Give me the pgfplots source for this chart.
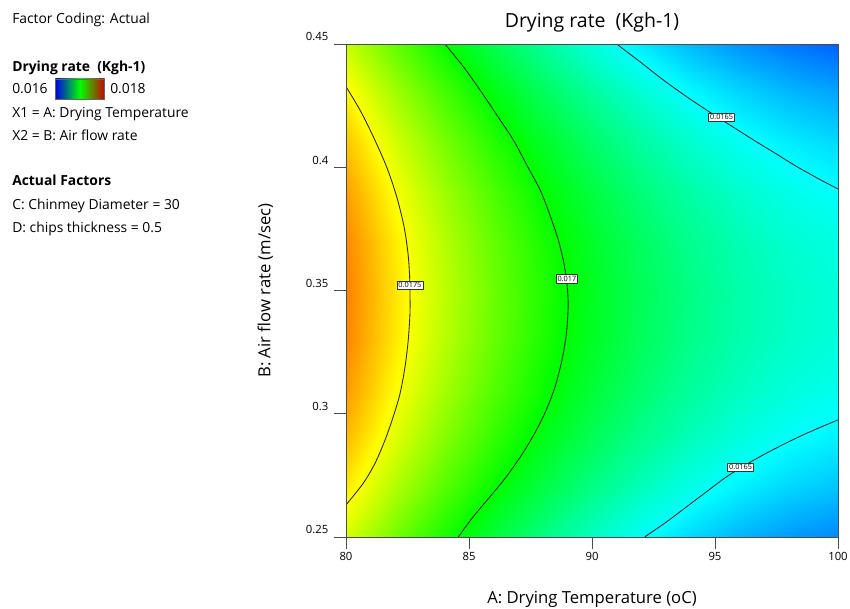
\documentclass[border=0pt]{standalone}
\usepackage{pgfplots}
\pgfplotsset{compat=1.18}
\usepackage{pgfplotstable}
\usepackage{fontspec}
\setmainfont{Open Sans}

% drying rate, T (oC), B (m/sec), z (Kgh-1)
\pgfplotstableread{
T B z
80  0.25 0.017421
82  0.25 0.017225
84  0.25 0.017047
86  0.25 0.016887
88  0.25 0.016745
90  0.25 0.016621
92  0.25 0.016515
94  0.25 0.016426
96  0.25 0.016356
98  0.25 0.016303
100 0.25 0.016268
80  0.27 0.017542
82  0.27 0.017346
84  0.27 0.017167
86  0.27 0.017007
88  0.27 0.016864
90  0.27 0.016740
92  0.27 0.016633
94  0.27 0.016544
96  0.27 0.016473
98  0.27 0.016420
100 0.27 0.016385
80  0.29 0.017635
82  0.29 0.017439
84  0.29 0.017260
86  0.29 0.017099
88  0.29 0.016956
90  0.29 0.016831
92  0.29 0.016724
94  0.29 0.016634
96  0.29 0.016563
98  0.29 0.016509
100 0.29 0.016473
80  0.31 0.017701
82  0.31 0.017504
84  0.31 0.017325
86  0.31 0.017163
88  0.31 0.017020
90  0.31 0.016894
92  0.31 0.016787
94  0.31 0.016697
96  0.31 0.016625
98  0.31 0.016571
100 0.31 0.016535
80  0.33 0.017740
82  0.33 0.017542
84  0.33 0.017362
86  0.33 0.017200
88  0.33 0.017056
90  0.33 0.016930
92  0.33 0.016822
94  0.33 0.016732
96  0.33 0.016660
98  0.33 0.016605
100 0.33 0.016569
80  0.35 0.017750
82  0.35 0.017552
84  0.35 0.017372
86  0.35 0.017210
88  0.35 0.017065
90  0.35 0.016939
92  0.35 0.016830
94  0.35 0.016740
96  0.35 0.016667
98  0.35 0.016612
100 0.35 0.016575
80  0.37 0.017734
82  0.37 0.017535
84  0.37 0.017354
86  0.37 0.017192
88  0.37 0.017047
90  0.37 0.016920
92  0.37 0.016811
94  0.37 0.016720
96  0.37 0.016647
98  0.37 0.016591
100 0.37 0.016554
80  0.39 0.017689
82  0.39 0.017490
84  0.39 0.017309
86  0.39 0.017146
88  0.39 0.017001
90  0.39 0.016874
92  0.39 0.016764
94  0.39 0.016673
96  0.39 0.016599
98  0.39 0.016543
100 0.39 0.016505
80  0.41 0.017617
82  0.41 0.017418
84  0.41 0.017237
86  0.41 0.017073
88  0.41 0.016927
90  0.41 0.016800
92  0.41 0.016690
94  0.41 0.016598
96  0.41 0.016524
98  0.41 0.016467
100 0.41 0.016429
80  0.43 0.017518
82  0.43 0.017318
84  0.43 0.017136
86  0.43 0.016972
88  0.43 0.016826
90  0.43 0.016698
92  0.43 0.016588
94  0.43 0.016495
96  0.43 0.016421
98  0.43 0.016364
100 0.43 0.016325
80  0.45 0.017391
82  0.45 0.017191
84  0.45 0.017009
86  0.45 0.016844
88  0.45 0.016698
90  0.45 0.016569
92  0.45 0.016458
94  0.45 0.016365
96  0.45 0.016290
98  0.45 0.016233
100 0.45 0.016194
}\drydata

\begin{document}
\begin{tikzpicture}[
  lbl/.style={draw=black!80, fill=white, line width=0.4pt, inner sep=1.1pt,
    font=\fontsize{5.5}{6}\selectfont},
  side/.style={anchor=base west, inner sep=0pt, font=\fontsize{10.4}{12}\selectfont},
  sideb/.style={side, font=\fontsize{10.4}{12}\selectfont\bfseries},
]
\path[use as bounding box] (-259.5pt,-53.25pt) rectangle (378pt,402.75pt);
\begin{axis}[
  scale only axis, width=369pt, height=369.75pt,
  xmin=80, xmax=100, ymin=0.25, ymax=0.45,
  xtick={80,85,90,95,100}, ytick={0.25,0.3,0.35,0.4,0.45},
  xtick pos=bottom, ytick pos=left,
  tick align=outside, major tick length=9pt,
  axis on top,
  axis line style={black!70, line width=0.6pt},
  tick style={black!70, line width=0.6pt},
  /pgf/number format/assume math mode=true,
  ticklabel style={font=\fontsize{8.5}{10}\selectfont},
  yticklabel style={/pgf/number format/fixed, /pgf/number format/precision=2,
    anchor=south east, inner sep=0pt, xshift=-4pt, yshift=2pt},
  xticklabel style={anchor=north, inner sep=0pt, yshift=-2.5pt},
  colormap={de}{rgb255(0cm)=(0,0,255); rgb255(1cm)=(0,255,255);
    rgb255(2cm)=(0,255,0); rgb255(3cm)=(255,255,0); rgb255(4cm)=(255,0,0)},
  point meta min=0.016, point meta max=0.018,
  title={Drying rate\ \ (Kgh-1)},
  title style={font=\fontsize{14.6}{17}\selectfont, at={(0.5,1)}, anchor=base, yshift=6.75pt},
  xlabel={A: Drying Temperature (oC)},
  xlabel style={font=\fontsize{12.5}{14}\selectfont, at={(axis description cs:0.5,0)},
    anchor=base, yshift=-49.5pt},
  ylabel={B: Air flow rate (m/sec)},
  ylabel style={font=\fontsize{12.5}{14}\selectfont, at={(axis description cs:0,0.5)},
    anchor=center, yshift=60.5pt},
]
\addplot[surf, shader=interp, mesh/cols=11, point meta=explicit]
  table[x=T, y=B, meta=z] {\drydata};

% contour lines
\addplot[no marks, smooth, black!85, line width=0.65pt] coordinates {
  (80.0,0.4327) (80.57,0.4232) (81.11,0.4124) (81.65,0.4002) (82.06,0.3881)
  (82.36,0.3759) (82.52,0.3651) (82.58,0.3570) (82.60,0.3502) (82.60,0.3407)
  (82.53,0.3299) (82.40,0.3191) (82.20,0.3083) (81.92,0.2988) (81.59,0.2894)
  (81.18,0.2799) (80.70,0.2718) (80.0,0.2630)};
\addplot[no marks, smooth, black!85, line width=0.65pt] coordinates {
  (84.02,0.45) (84.77,0.4408) (85.45,0.4313) (86.13,0.4212) (86.80,0.4111)
  (87.35,0.4009) (87.89,0.3908) (88.29,0.3806) (88.63,0.3705) (88.86,0.3610)
  (88.99,0.3520) (89.03,0.3435) (88.96,0.3326) (88.78,0.3218) (88.50,0.3110)
  (88.14,0.3015) (87.72,0.2930) (87.18,0.2839) (86.53,0.2746) (85.85,0.2663)
  (85.17,0.2582) (84.57,0.2501)};
\addplot[no marks, smooth, black!85, line width=0.65pt] coordinates {
  (91.00,0.45) (91.95,0.4428) (92.90,0.4354) (93.85,0.4286) (94.66,0.4232)
  (95.61,0.4171) (96.56,0.4111) (97.51,0.4053) (98.32,0.4003) (99.27,0.3950)
  (100,0.3912)};
\addplot[no marks, smooth, black!85, line width=0.65pt] coordinates {
  (92.15,0.2501) (93.04,0.2562) (93.85,0.2623) (94.66,0.2684) (95.48,0.2745)
  (96.42,0.2803) (97.24,0.2848) (98.05,0.2889) (98.73,0.2921) (99.40,0.2950)
  (100,0.2975)};

\node[lbl] at (axis cs:82.6,0.3522) {0.0175};
\node[lbl] at (axis cs:88.98,0.3547) {0.017};
\node[lbl] at (axis cs:95.27,0.4203) {0.0165};
\node[lbl] at (axis cs:96.04,0.2783) {0.0165};
\end{axis}

% side panel
\node[side] at (-250.5pt,384.75pt) {Factor Coding: Actual};
\node[sideb] at (-250.5pt,348.75pt) {Drying rate\ \ (Kgh-1)};
\node[side] at (-250.5pt,332.25pt) {0.016};
\shade[left color=blue!90!black, right color=red!80!black, middle color=green]
  (-218pt,328.5pt) rectangle (-181pt,343.5pt);
\draw[black!60, line width=0.4pt] (-218pt,328.5pt) rectangle (-181pt,343.5pt);
\node[side] at (-177pt,332.25pt) {0.018};
\node[side] at (-250.5pt,314.25pt) {X1 = A: Drying Temperature};
\node[side] at (-250.5pt,297.75pt) {X2 = B: Air flow rate};
\node[sideb] at (-250.5pt,263.25pt) {Actual Factors};
\node[side] at (-250.5pt,246pt) {C: Chinmey Diameter = 30};
\node[side] at (-250.5pt,228.75pt) {D: chips thickness = 0.5};
\end{tikzpicture}
\end{document}
